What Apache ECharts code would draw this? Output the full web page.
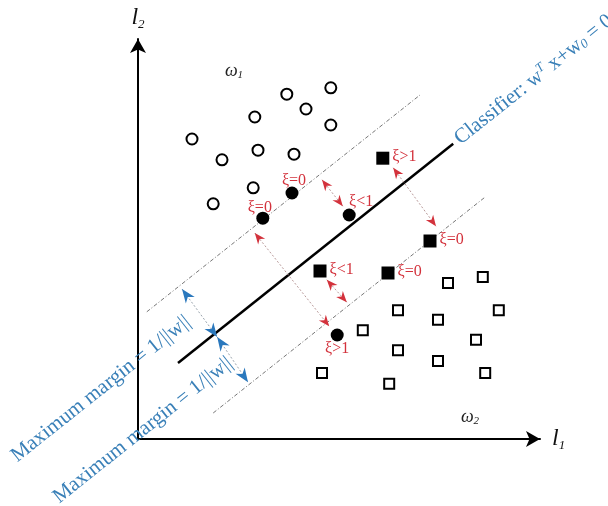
<!DOCTYPE html>
<html>
<head>
<meta charset="utf-8">
<script src="https://cdn.jsdelivr.net/npm/echarts@6/dist/echarts.min.js"></script>
<style>html,body{margin:0;padding:0;background:#fff;}#c{width:608px;height:506px;}</style>
</head>
<body>
<div id="c"></div>
<script>
// ---- data (units: feature space l1, l2) ----
var openCircles = [[1.35,7.5],[2.1,6.98],[1.88,5.88],[2.88,6.28],[3.0,7.22],[2.92,8.05],[3.72,8.62],[4.2,8.25],[4.82,8.78],[4.82,7.85],[3.9,7.12]];
var filledCircles = [[3.85,6.15],[3.12,5.52],[5.28,5.6],[4.98,2.6]];
var filledCircleLabels = ['ξ=0','ξ=0','ξ<1','ξ>1'];
var filledCirclePlace = ['top','topLeft','topRight','bottom'];
var filledSquares = [[6.12,7.02],[7.3,4.95],[6.25,4.15],[4.55,4.2]];
var filledSquareLabels = ['ξ>1','ξ=0','ξ=0','ξ<1'];
var openSquares = [[7.75,3.9],[8.62,4.05],[9.02,3.22],[7.5,2.98],[6.5,3.22],[5.62,2.72],[6.5,2.22],[8.45,2.48],[7.5,1.95],[8.68,1.65],[4.6,1.65],[6.28,1.38]];
var classifierLine = [[1.0,1.9],[7.88,7.38]];
var upperMargin = [[0.22,3.18],[7.05,8.6]];
var lowerMargin = [[1.88,0.65],[8.68,6.05]];
var redArrows = [[2.92,5.15,4.78,2.82],[4.6,6.48,5.12,5.82],[6.38,6.78,7.45,5.32],[4.72,3.98,5.22,3.42]];
var blueArrows = [[1.1,3.75,1.98,2.55],[1.98,2.55,2.75,1.42]];
var marginTexts = ['Maximum margin = 1/||w||','Maximum margin = 1/||w||'];
var marginTextAnchors = [[1.25,2.98],[2.3,1.95]];
var classLabels = [['ω','1',[2.4,9.2]],['ω','2',[8.3,0.55]]];
var xMax = 10.05, yMax = 10.0;

var chart = echarts.init(document.getElementById('c'), null, {renderer:'canvas'});
var SERIF = '"Liberation Serif","DejaVu Serif",serif';
var RED = '#d3323c', BLUE = '#2a78bd', TBLUE = '#3a80b8';

function arrowHead(tip, dir, L, W, color){
  var bx = tip[0]-dir[0]*L, by = tip[1]-dir[1]*L;
  var nx = -dir[1], ny = dir[0];
  var notchx = tip[0]-dir[0]*L*0.7, notchy = tip[1]-dir[1]*L*0.7;
  return {type:'polygon', shape:{points:[[tip[0],tip[1]],[bx+nx*W,by+ny*W],[notchx,notchy],[bx-nx*W,by-ny*W]]}, style:{fill:color, stroke:null}};
}
function arrowRender(color, lineColor, L, W){
  return function(params, api){
    var p1 = api.coord([api.value(0), api.value(1)]);
    var p2 = api.coord([api.value(2), api.value(3)]);
    var dx = p2[0]-p1[0], dy = p2[1]-p1[1];
    var len = Math.sqrt(dx*dx+dy*dy);
    var d = [dx/len, dy/len];
    return {type:'group', children:[
      {type:'line', shape:{x1:p1[0],y1:p1[1],x2:p2[0],y2:p2[1]}, style:{stroke:lineColor, lineWidth:1, lineDash:[2,2]}},
      arrowHead(p2, d, L, W, color),
      arrowHead(p1, [-d[0],-d[1]], L, W, color)
    ]};
  };
}
function lineAngle(api, seg){
  var a = api.coord(seg[0]), b = api.coord(seg[1]);
  return Math.atan2(-(b[1]-a[1]), b[0]-a[0]);
}

var labelOffsets = {top:[2,2], topLeft:[-3,4], topRight:[12,1], bottom:[0,-1]};

var option = {
  animation:false,
  backgroundColor:'#fff',
  grid:{left:138, top:39, width:402, height:400, containLabel:false, outerBoundsMode:'none'},
  xAxis:{type:'value', min:0, max:xMax, splitLine:{show:false}, axisTick:{show:false}, axisLabel:{show:false},
    axisLine:{show:true, onZero:false, symbol:['none','arrow'], symbolSize:[12,14], lineStyle:{color:'#000', width:2}},
    name:'{l|l}{s|1}', nameLocation:'end', nameGap:12,
    nameTextStyle:{rich:{l:{fontFamily:SERIF, fontStyle:'italic', fontSize:24, color:'#111'}, s:{fontFamily:SERIF, fontStyle:'italic', fontSize:13, color:'#111', padding:[13,0,0,0]}}}},
  yAxis:{type:'value', min:0, max:yMax, splitLine:{show:false}, axisTick:{show:false}, axisLabel:{show:false},
    axisLine:{show:true, onZero:false, symbol:['none','arrow'], symbolSize:[12,14], lineStyle:{color:'#000', width:2}},
    name:'{l|l}{s|2}', nameLocation:'end', nameGap:8,
    nameTextStyle:{align:'center', rich:{l:{fontFamily:SERIF, fontStyle:'italic', fontSize:24, color:'#111'}, s:{fontFamily:SERIF, fontStyle:'italic', fontSize:13, color:'#111', padding:[13,0,0,0]}}}},
  series:[
    {type:'line', data:upperMargin, symbol:'none', lineStyle:{color:'#777', width:1, type:[4,2,1,2]}, z:1},
    {type:'line', data:lowerMargin, symbol:'none', lineStyle:{color:'#777', width:1, type:[4,2,1,2]}, z:1},
    {type:'line', data:classifierLine, symbol:'none', lineStyle:{color:'#000', width:2.5}, z:2},
    {type:'custom', data:redArrows, renderItem:arrowRender(RED, '#b99a9a', 11, 4.5), z:3},
    {type:'custom', data:blueArrows, renderItem:arrowRender(BLUE, '#9aa4ad', 14, 5.5), z:3},
    {type:'scatter', data:openCircles, symbol:'circle', symbolSize:11, itemStyle:{color:'#fff', borderColor:'#000', borderWidth:2, opacity:1}, z:5},
    {type:'scatter', data:openSquares, symbol:'rect', symbolSize:10, itemStyle:{color:'#fff', borderColor:'#000', borderWidth:2, opacity:1}, z:5},
    {type:'scatter', symbol:'circle', symbolSize:13, itemStyle:{color:'#000', opacity:1}, z:5,
      data:filledCircles.map(function(p,i){
        var place = filledCirclePlace[i];
        return {value:p, label:{show:true, formatter:filledCircleLabels[i], position: place==='bottom'?'bottom':'top', offset:labelOffsets[place], distance:0}};
      }),
      label:{color:RED, fontFamily:SERIF, fontSize:16}},
    {type:'scatter', symbol:'rect', symbolSize:13, itemStyle:{color:'#000', opacity:1}, z:5,
      data:filledSquares.map(function(p,i){ return {value:p, label:{show:true, formatter:filledSquareLabels[i]}}; }),
      label:{position:'right', distance:3, offset:[0,-1], color:RED, fontFamily:SERIF, fontSize:16}},
    // rotated texts
    {type:'custom', data:[0], z:6, renderItem:function(params, api){
      var ang = lineAngle(api, classifierLine);
      var end = api.coord(classifierLine[1]);
      var gx = end[0] + Math.cos(ang)*5, gy = end[1] - Math.sin(ang)*5;
      return {type:'text', x:gx, y:gy, rotation:ang, style:{
        text:'Classifier: w{sup|T} x+w{sub|0} = 0', align:'left', verticalAlign:'middle',
        fontFamily:SERIF, fontSize:21, fill:TBLUE,
        rich:{sup:{fontFamily:SERIF, fontStyle:'italic', fontSize:13, fill:TBLUE, padding:[0,0,10,0]}, sub:{fontFamily:SERIF, fontSize:13, fill:TBLUE, fontStyle:'italic', padding:[8,0,0,0]}}
      }};
    }},
    {type:'custom', data:marginTextAnchors, z:6, renderItem:function(params, api){
      var ang = lineAngle(api, upperMargin);
      var p = api.coord([api.value(0), api.value(1)]);
      return {type:'text', x:p[0], y:p[1], rotation:ang, style:{
        text:marginTexts[params.dataIndex], align:'right', verticalAlign:'middle',
        fontFamily:SERIF, fontSize:21, fill:TBLUE}};
    }},
    {type:'custom', data:classLabels.map(function(c){return c[2];}), z:6, renderItem:function(params, api){
      var p = api.coord([api.value(0), api.value(1)]);
      var c = classLabels[params.dataIndex];
      return {type:'text', x:p[0], y:p[1], style:{
        text:'{w|'+c[0]+'}{s|'+c[1]+'}', align:'center', verticalAlign:'middle',
        rich:{w:{fontFamily:SERIF, fontStyle:'italic', fontSize:18, fill:'#222'}, s:{fontFamily:SERIF, fontStyle:'italic', fontSize:11, fill:'#222', padding:[9,0,0,0]}}}};
    }}
  ]
};
chart.setOption(option);
</script>
</body>
</html>
